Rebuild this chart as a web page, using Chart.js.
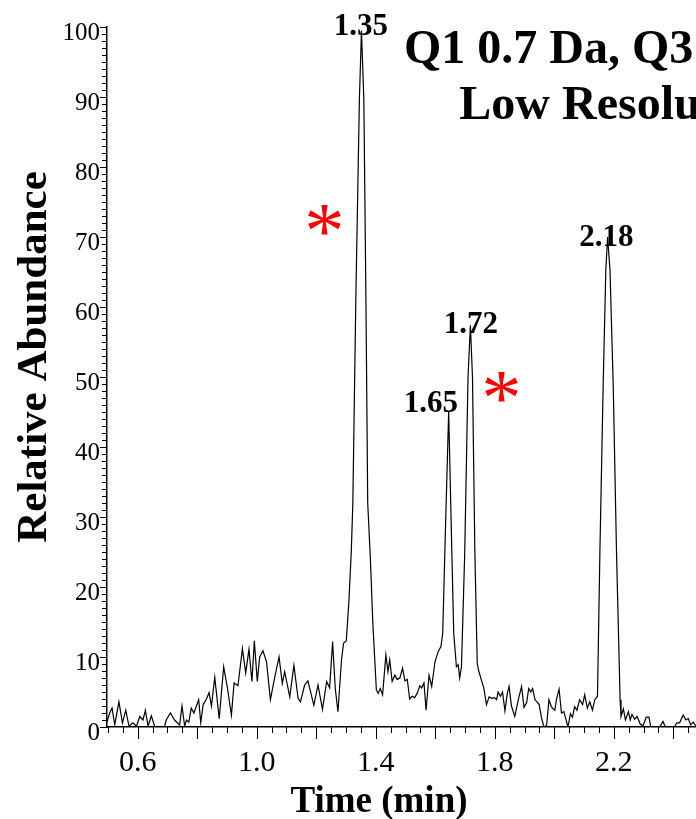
<!DOCTYPE html>
<html lang="en">
<head>
<meta charset="UTF-8">
<title>Relative Abundance vs Time</title>
<script src="https://cdn.jsdelivr.net/npm/chart.js@4.4.0/dist/chart.umd.min.js"></script>
<style>
    html, body { margin: 0; padding: 0; background: #fff; overflow: hidden; }
    .chart-box { position: relative; width: 696px; height: 819px; }
</style>
</head>
<body>
<div class="chart-box"><canvas id="chart"></canvas></div>
<script>
// Chromatogram trace (time in min, relative abundance in %)
const times = [
    0.497, 0.506, 0.514, 0.523, 0.537, 0.549, 0.560, 0.571, 0.584, 0.596,
    0.607, 0.618, 0.626, 0.635, 0.646, 0.657, 0.664, 0.690, 0.696, 0.710,
    0.724, 0.741, 0.749, 0.758, 0.764, 0.772, 0.780, 0.789, 0.805, 0.812,
    0.820, 0.831, 0.840, 0.848, 0.859, 0.874, 0.889, 0.902, 0.915, 0.924,
    0.937, 0.952, 0.963, 0.974, 0.984, 0.992, 1.002, 1.010, 1.021, 1.033,
    1.046, 1.061, 1.075, 1.086, 1.094, 1.111, 1.125, 1.139, 1.147, 1.161,
    1.172, 1.192, 1.206, 1.221, 1.235, 1.245, 1.255, 1.264, 1.273, 1.285,
    1.292, 1.301, 1.310, 1.318, 1.323, 1.333, 1.345, 1.352, 1.360, 1.367,
    1.373, 1.382, 1.390, 1.402, 1.408, 1.415, 1.423, 1.434, 1.441, 1.447,
    1.455, 1.464, 1.472, 1.481, 1.490, 1.498, 1.506, 1.514, 1.522, 1.531,
    1.539, 1.548, 1.554, 1.562, 1.569, 1.579, 1.588, 1.599, 1.610, 1.619,
    1.625, 1.634, 1.645, 1.654, 1.662, 1.671, 1.677, 1.682, 1.688, 1.699,
    1.710, 1.718, 1.725, 1.733, 1.741, 1.746, 1.755, 1.763, 1.772, 1.781,
    1.789, 1.798, 1.806, 1.811, 1.819, 1.826, 1.834, 1.842, 1.848, 1.856,
    1.867, 1.879, 1.890, 1.898, 1.907, 1.914, 1.921, 1.927, 1.935, 1.942,
    1.949, 1.957, 1.965, 1.974, 1.982, 1.990, 1.996, 2.002, 2.007, 2.016,
    2.024, 2.032, 2.039, 2.046, 2.054, 2.061, 2.068, 2.076, 2.085, 2.095,
    2.102, 2.111, 2.119, 2.128, 2.136, 2.145, 2.153, 2.164, 2.173, 2.179,
    2.187, 2.198, 2.209, 2.221, 2.224, 2.232, 2.239, 2.249, 2.255, 2.261,
    2.270, 2.278, 2.289, 2.298, 2.309, 2.318, 2.324, 2.354, 2.365, 2.373,
    2.404, 2.411, 2.421, 2.433, 2.442, 2.450, 2.458, 2.467, 2.476, 2.489
];
const abundance = [
    0.7, 2.0, 2.7, 0.3, 3.6, 0.6, 2.4, 0.1, 0.6, 0.1,
    1.5, 1.0, 2.4, 0.1, 1.6, 0.1, 0, 0, 1.0, 2.0,
    1.0, 0.3, 3.0, 0.1, 1.0, 0.7, 2.7, 2.0, 3.9, 0.6,
    3.2, 4.0, 4.9, 3.0, 7.1, 1.2, 8.6, 5.5, 1.7, 6.3,
    5.9, 11.2, 7.7, 11.1, 6.5, 12.3, 6.5, 10.0, 10.9, 9.3,
    3.9, 7.2, 10.0, 6.2, 7.9, 4.3, 8.8, 4.1, 3.6, 6.0,
    6.6, 3.1, 6.0, 2.5, 6.5, 5.6, 12.2, 5.5, 2.2, 9.6,
    12.0, 12.3, 18.1, 25.3, 32, 61, 89.6, 99.5, 89.6, 61,
    32, 24, 15, 5.3, 4.8, 5.5, 4.6, 10.3, 7.9, 9.6,
    6.5, 7.4, 6.8, 7.0, 8.4, 6.6, 6.8, 4.0, 4.4, 4.2,
    4.8, 5.9, 5.6, 6.3, 2.4, 7.4, 5.8, 9.3, 10.8, 11.5,
    13.4, 28, 45, 28, 13.4, 8.6, 8.9, 7.0, 8.6, 25,
    50, 57.4, 50, 25, 9.1, 8.0, 6.7, 5.6, 3.2, 4.3,
    4.1, 4.2, 3.9, 5.0, 4.4, 5.0, 2.3, 4.8, 5.8, 3.0,
    1.5, 3.9, 5.8, 2.8, 3.5, 5.5, 5.0, 5.5, 3.9, 3.6,
    3.2, 1.3, 0, 0.2, 3.9, 2.9, 2.6, 2.4, 3.9, 5.4,
    2.0, 2.2, 1.1, 0, 1.9, 1.4, 2.9, 2.4, 3.9, 3.2,
    4.6, 2.7, 3.6, 2.4, 3.9, 4.4, 24.8, 48.6, 65.3, 70,
    65.3, 48.6, 24.8, 3.9, 1.5, 2.6, 1.0, 2.2, 1.0, 1.8,
    1.1, 1.5, 0.4, 0.2, 1.4, 1.4, 0, 0, 0.8, 0,
    0, 0.6, 0.6, 1.7, 1.0, 1.2, 0.3, 0.7, 0.1, 0.5
];

const xTickLabels = [0.6, 1.0, 1.4, 1.8, 2.2];
const yTickLabels = [0, 10, 20, 30, 40, 50, 60, 70, 80, 90, 100];

// peak retention-time labels, anchored in data units (time, abundance at baseline of text)
const peakLabels = ['1.35', '1.65', '1.72', '2.18'];
const peakLabelTimes = [1.35, 1.585, 1.72, 2.175];
const peakLabelHeights = [98.9, 45, 56.3, 68.7];

// red asterisks
const markerTimes = [1.228, 1.822];
const markerHeights = [72.4, 48.6];

const titleLines = ['Q1 0.7 Da, Q3 0.7 Da', 'Low Resolution'];

const SERIF = '"Liberation Serif", "Times New Roman", serif';

const decorations = {
    id: 'decorations',
    afterDraw(chart) {
        const { ctx, chartArea } = chart;
        const x = chart.scales.x;
        const y = chart.scales.y;
        ctx.save();
        ctx.strokeStyle = '#000';
        ctx.lineWidth = 1;

        // y tick marks: every 1, longer at every 10
        for (let v = 0; v <= 100; v++) {
            const py = Math.round(y.getPixelForValue(v)) + 0.5;
            const len = v % 10 === 0 ? 7 : 5;
            ctx.beginPath();
            ctx.moveTo(chartArea.left - len, py);
            ctx.lineTo(chartArea.left, py);
            ctx.stroke();
        }
        // x tick marks: every 0.05, longer at every 0.2
        for (let i = 10; i <= 60; i++) {
            const px = Math.round(x.getPixelForValue(i * 0.05)) + 0.5;
            if (px > chartArea.right) break;
            const len = i % 4 === 0 ? 12 : 6;
            ctx.beginPath();
            ctx.moveTo(px, chartArea.bottom);
            ctx.lineTo(px, chartArea.bottom + len);
            ctx.stroke();
        }

        ctx.fillStyle = '#000';

        // axis titles
        ctx.font = `bold 43px ${SERIF}`;
        ctx.textAlign = 'center';
        ctx.textBaseline = 'alphabetic';
        ctx.save();
        ctx.translate(46, 357);
        ctx.rotate(-Math.PI / 2);
        ctx.fillText('Relative Abundance', 0, 0);
        ctx.restore();

        ctx.font = `bold 37px ${SERIF}`;
        ctx.fillText('Time (min)', 379, 812);

        // headline (runs off the right edge)
        ctx.font = `bold 48px ${SERIF}`;
        ctx.fillText(titleLines[0], 620, 63);
        ctx.fillText(titleLines[1], 620, 119);

        // peak labels
        ctx.font = `bold 31px ${SERIF}`;
        peakLabels.forEach((lab, i) => {
            ctx.fillText(lab, x.getPixelForValue(peakLabelTimes[i]), y.getPixelForValue(peakLabelHeights[i]));
        });

        // asterisks
        ctx.fillStyle = '#ff0000';
        ctx.font = `70px ${SERIF}`;
        ctx.textAlign = 'left';
        const m = ctx.measureText('*');
        const gw = m.actualBoundingBoxLeft + m.actualBoundingBoxRight;
        const gh = m.actualBoundingBoxAscent + m.actualBoundingBoxDescent;
        const k = 30 / gh;
        markerTimes.forEach((t, i) => {
            ctx.save();
            ctx.translate(x.getPixelForValue(t), y.getPixelForValue(markerHeights[i]));
            ctx.scale(k, k);
            ctx.fillText('*', -gw / 2 + m.actualBoundingBoxLeft, gh / 2 - m.actualBoundingBoxDescent);
            ctx.restore();
        });
        ctx.restore();
    }
};

new Chart(document.getElementById('chart'), {
    type: 'line',
    data: {
        datasets: [{
            data: times.map((t, i) => ({ x: t, y: abundance[i] })),
            borderColor: '#000',
            borderWidth: 1.2,
            pointRadius: 0,
            tension: 0,
            fill: false
        }]
    },
    options: {
        responsive: true,
        maintainAspectRatio: false,
        animation: false,
        events: [],
        layout: { padding: { top: 27, right: 0, bottom: 0, left: 0 } },
        plugins: { legend: { display: false }, tooltip: { enabled: false } },
        scales: {
            x: {
                type: 'linear',
                min: 0.497,
                max: 2.476,
                afterBuildTicks: s => { s.ticks = xTickLabels.map(v => ({ value: v })); },
                afterFit: s => { s.height = 92; },
                ticks: {
                    autoSkip: false,
                    maxRotation: 0,
                    padding: 6,
                    color: '#000',
                    font: { family: SERIF, size: 30 },
                    callback: v => v.toFixed(1)
                },
                grid: { drawOnChartArea: false, drawTicks: true, tickLength: 12, tickColor: 'rgba(0,0,0,0)' },
                border: { display: true, color: '#000', width: 1.5 }
            },
            y: {
                min: 0,
                max: 100,
                afterBuildTicks: s => { s.ticks = yTickLabels.map(v => ({ value: v })); },
                afterFit: s => { s.width = 107; },
                ticks: {
                    autoSkip: false,
                    padding: 1,
                    labelOffset: 6,
                    color: '#000',
                    font: { family: SERIF, size: 25 }
                },
                grid: { drawOnChartArea: false, drawTicks: true, tickLength: 6, tickColor: 'rgba(0,0,0,0)' },
                border: { display: true, color: '#000', width: 1.5 }
            }
        }
    },
    plugins: [decorations]
});
</script>
</body>
</html>
